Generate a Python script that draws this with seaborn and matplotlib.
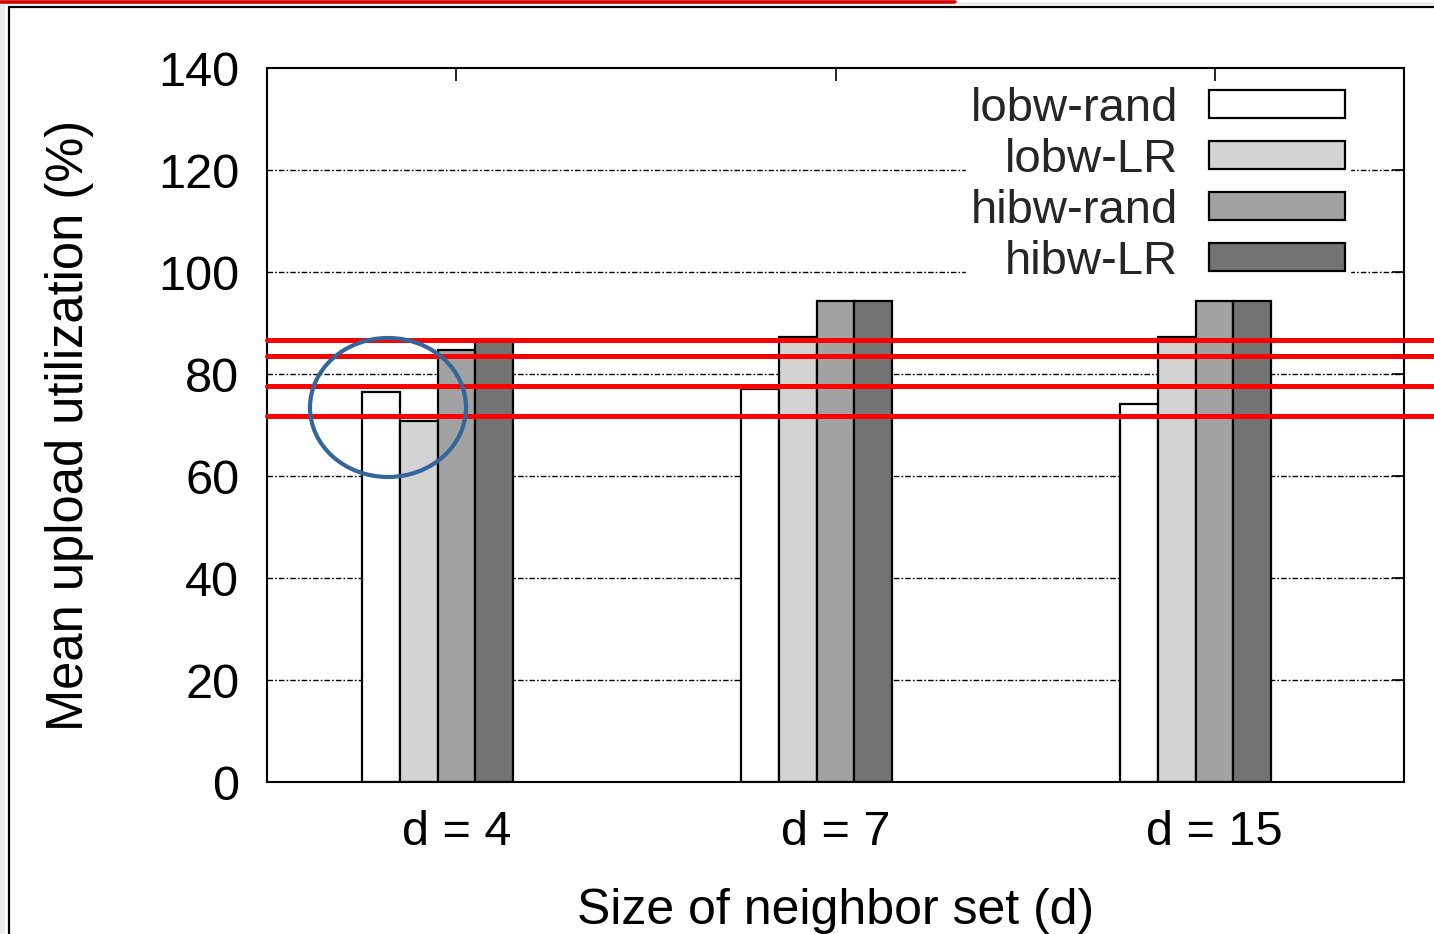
import numpy as np
import pandas as pd
import matplotlib
matplotlib.use("Agg")
import matplotlib.pyplot as plt
from matplotlib.patches import Ellipse, Rectangle
from matplotlib.lines import Line2D
import seaborn as sns

# ---- data ----
categories = ["d = 4", "d = 7", "d = 15"]
series = ["lobw-rand", "lobw-LR", "hibw-rand", "hibw-LR"]
lobw_rand = [76.5, 77.0, 74.1]
lobw_lr = [70.8, 87.3, 87.3]
hibw_rand = [84.7, 94.4, 94.4]
hibw_lr = [86.6, 94.4, 94.4]
colors = ["#ffffff", "#d3d3d3", "#a2a2a2", "#737373"]
yticks = [0, 20, 40, 60, 80, 100, 120, 140]
highlight_levels = [86.6, 83.6, 77.6, 71.8]

df = pd.DataFrame({
    "cat": categories * 4,
    "series": [s for s in series for _ in categories],
    "value": lobw_rand + lobw_lr + hibw_rand + hibw_lr,
})

sns.set_theme(style="white")
plt.rcParams["font.family"] = ["Liberation Sans", "DejaVu Sans"]

W, H = 1434, 934
fig = plt.figure(figsize=(W / 100, H / 100), dpi=100)
ax = fig.add_axes([267 / W, 1 - 782 / H, (1404 - 267) / W, (782 - 68) / H])

sns.barplot(data=df, x="cat", y="value", hue="series", order=categories,
            hue_order=series, palette=colors, width=0.4, dodge=True,
            edgecolor="black", linewidth=1.6, saturation=1, ax=ax, zorder=3)

ax.set_xlim(-0.45, 2.55)
ax.set_ylim(0, 140)
ax.set_yticks(yticks)
ax.set_yticklabels([str(v) for v in yticks])
ax.set_xticks([i + 0.05 for i in range(len(categories))])
ax.set_xticklabels(categories)

for v in yticks[1:-1]:
    ax.axhline(v, color="black", lw=1.0, ls=(0, (4, 1.5, 1.2, 1.5)), zorder=1)

for s in ax.spines.values():
    s.set_color("black")
    s.set_linewidth(1.5)
    s.set_zorder(5)

ax.tick_params(axis="both", which="major", direction="in", labelsize=35,
               colors="black", top=True, right=True, length=9, width=1.2)
ax.tick_params(axis="y", pad=20)
ax.tick_params(axis="x", pad=20)
ax.set_xlabel("Size of neighbor set (d)", fontsize=36, color="black", labelpad=24)
ax.set_ylabel("Mean upload utilization (%)", fontsize=36.5, color="black", labelpad=46)

handles, labels = ax.get_legend_handles_labels()
leg = ax.legend(handles, labels, loc="upper right",
                bbox_to_anchor=(1350 / W, 1 - 82 / H), bbox_transform=fig.transFigure,
                markerfirst=False, frameon=True, fancybox=False, framealpha=1,
                edgecolor="white", facecolor="white", fontsize=34,
                handlelength=2.88, handleheight=0.55, handletextpad=0.66,
                labelspacing=0.15, borderpad=0.1, borderaxespad=0)
for t in leg.get_texts():
    t.set_ha("right")
leg.set_zorder(4)

# ---- annotations over the chart ----
for lvl in highlight_levels:
    ax.axhline(lvl, xmin=0, xmax=(W - 267) / (1404 - 267), color="#ff0000",
               lw=3.6, clip_on=False, zorder=8)

fig.patches.append(Ellipse((388 / W, 1 - 407.5 / H), 156 / W, 139 / H,
                           transform=fig.transFigure, fill=False,
                           edgecolor="#34659b", lw=3, zorder=9))
fig.add_artist(Line2D([0, 955 / W], [1 - 1.5 / H] * 2, color="#d40000", lw=2.6))
fig.add_artist(Line2D([955 / W, 1], [1 - 3 / H] * 2, color="#dddddd", lw=1.0))
fig.add_artist(Line2D([9 / W, 1], [1 - 7 / H] * 2, color="black", lw=1.6))
fig.add_artist(Line2D([9 / W] * 2, [0, 1 - 7 / H], color="black", lw=1.6))
fig.patches.append(Rectangle((0, 0), 5 / W, 1 - 5 / H, transform=fig.transFigure,
                             facecolor="#ececec", edgecolor="none"))

fig.savefig("out.png", dpi=100)
